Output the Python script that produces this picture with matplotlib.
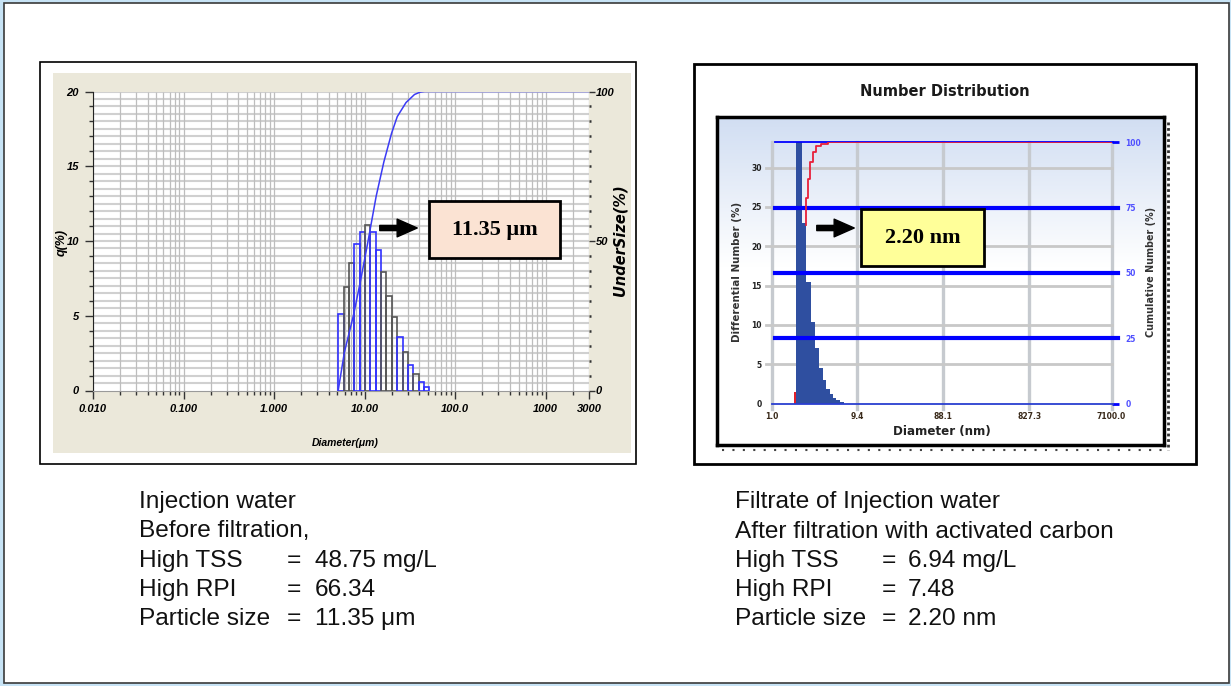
import numpy as np
import matplotlib.pyplot as plt
from matplotlib.patches import Rectangle, FancyArrowPatch
from matplotlib.ticker import FixedLocator, NullLocator

# --- data: left chart (laser diffraction, before filtration) ---
left_edges = [5.10, 5.84, 6.70, 7.68, 8.80, 10.08, 11.55, 13.24, 15.17, 17.39,
              19.93, 22.84, 26.17, 29.99, 34.37, 39.39, 45.14, 51.73]
left_q = [5.1, 6.9, 8.5, 9.8, 10.6, 11.1, 10.6, 9.4, 7.9, 6.3,
          4.9, 3.6, 2.6, 1.7, 1.1, 0.6, 0.25]
left_cum_d = [5.1, 5.97, 7.5, 9.1, 10.9, 13.4, 16.3, 19.8, 22.9, 28.6, 35.5, 41.0, 46.0, 3000]
left_cum = [0, 12.8, 25, 37.4, 50, 65, 76.5, 86, 91.6, 96.3, 99.0, 99.8, 100, 100]
left_xticks = [0.01, 0.1, 1, 10, 100, 1000, 3000]
left_xlabels = ['0.010', '0.100', '1.000', '10.00', '100.0', '1000', '3000']

# --- data: right chart (number distribution, after filtration) ---
right_edges = [1.80, 1.90, 2.20, 2.46, 2.80, 3.12, 3.47, 3.82, 4.19, 4.57, 4.98, 5.43, 6.0, 6.6]
right_q = [1.5, 33.2, 22.9, 15.5, 10.4, 7.0, 4.5, 3.0, 1.9, 1.25, 0.7, 0.4, 0.15]
right_cum_d = [2.43, 2.43, 2.58, 2.75, 2.95, 3.22, 3.67, 4.38, 5.45, 7100.0]
right_cum = [68.5, 78.7, 86.0, 92.7, 96.3, 98.5, 99.6, 100, 100, 100]
right_xticks = [1.0, 9.4, 88.1, 827.3, 7100.0]
right_xlabels = ['1.0', '9.4', '88.1', '827.3', '7100.0']

left_info = [("Injection water", "", ""),
             ("Before filtration,", "", ""),
             ("High TSS", "=", "48.75 mg/L"),
             ("High RPI", "=", "66.34"),
             ("Particle size", "=", "11.35 \u03bcm")]
right_info = [("Filtrate of Injection water", "", ""),
              ("After filtration with activated carbon", "", ""),
              ("High TSS", "=", "6.94 mg/L"),
              ("High RPI", "=", "7.48"),
              ("Particle size", "=", "2.20 nm")]

W, H = 1231, 686


def frect(x0, y0, x1, y1):
    # pixel box (top-left origin) -> figure fraction
    return [x0 / W, 1 - y1 / H, (x1 - x0) / W, (y1 - y0) / H]


def fpt(x, y):
    return (x / W, 1 - y / H)


def box(x0, y0, x1, y1, **kw):
    r = Rectangle(fpt(x0, y1), (x1 - x0) / W, (y1 - y0) / H,
                  transform=fig.transFigure, **kw)
    fig.add_artist(r)
    return r


def arrow(x0, x1, y):
    a = FancyArrowPatch(fpt(x0, y), fpt(x1, y), transform=fig.transFigure,
                        arrowstyle='simple,head_length=0.85,head_width=0.75,tail_width=0.22',
                        mutation_scale=17, color='black', zorder=10)
    fig.add_artist(a)


fig = plt.figure(figsize=(W / 100, H / 100), dpi=100, facecolor='#c7e3f5')
box(4, 3, 1229, 683, fc='white', ec='#3a3a3a', lw=1.2, zorder=0)

# ================= LEFT CHART =================
box(40, 62, 636, 464, fc='white', ec='black', lw=1.2, zorder=0)
box(53, 73, 631, 453, fc='#ebe8da', ec='none', zorder=0)

lfont = dict(family='Liberation Sans', weight='bold', style='italic')
ax1 = fig.add_axes(frect(93, 91.5, 589, 390.5))
ax1.set_facecolor('white')
ax1.set_xscale('log')
ax1.set_xlim(0.01, 3000)
ax1.set_ylim(0, 20)

grid_y = np.arange(0.5, 20.01, 0.5)
ax1.hlines(grid_y, 0.01, 3000, color='#d0d0d0', lw=1.5, zorder=0)
grid_x = [m * 10.0 ** e for e in range(-2, 4) for m in range(1, 10) if m * 10.0 ** e <= 3000]
ax1.vlines(grid_x, 0, 20, color='#bdbdbd', lw=0.9, zorder=0)

colors = ['#3030ff', '#555555', '#555555', '#3030ff', '#3030ff', '#555555', '#3030ff',
          '#3030ff', '#555555', '#555555', '#555555', '#3030ff', '#555555', '#3030ff',
          '#555555', '#3030ff', '#3030ff']
ax1.bar(left_edges[:-1], left_q, width=np.diff(left_edges), align='edge',
        fill=False, edgecolor=colors, linewidth=1.2, zorder=3)

ax1.set_xticks(left_xticks)
ax1.set_xticklabels(left_xlabels, **lfont, fontsize=8)
ax1.xaxis.set_minor_locator(FixedLocator(grid_x))
ax1.set_yticks([0, 5, 10, 15, 20])
ax1.set_yticklabels(['0', '5', '10', '15', '20'], **lfont, fontsize=8)
ax1.yaxis.set_minor_locator(FixedLocator(range(0, 21)))
ax1.tick_params(which='major', direction='out', length=6, width=1, color='#333333', pad=4)
ax1.tick_params(which='minor', direction='out', length=3, width=1, color='#333333')
for s in ['top', 'right']:
    ax1.spines[s].set_visible(False)
ax1.spines['bottom'].set_color('#9a9a9a')
ax1.spines['left'].set_color('#222222')

ax1r = ax1.twinx()
ax1r.set_ylim(0, 100)
ax1r.plot(left_cum_d, left_cum, color='#3b3bf5', lw=1.1, zorder=4)
ax1r.set_yticks([0, 50, 100])
ax1r.set_yticklabels(['0', '50', '100'], **lfont, fontsize=8)
ax1r.yaxis.set_minor_locator(FixedLocator(range(0, 101, 5)))
ax1r.tick_params(which='major', direction='out', length=4, width=1, color='#333333', pad=1)
ax1r.tick_params(which='minor', direction='out', length=1.5, width=1.8, color='#333333')
for s in ['top', 'right', 'left', 'bottom']:
    ax1r.spines[s].set_visible(False)

fig.text(*fpt(62, 242), 'q(%)', rotation=90, ha='center', va='center', fontsize=9, **lfont)
fig.text(*fpt(620, 240), 'UnderSize(%)', rotation=90, ha='center', va='center', fontsize=10.5,
         family='DejaVu Sans', weight='bold', style='italic')
fig.text(*fpt(345, 443), 'Diameter(\u03bcm)', ha='center', va='center', fontsize=7.5, **lfont)

box(429, 201, 560, 258, fc='#fbe3d3', ec='black', lw=2, zorder=9)
fig.text(*fpt(494.5, 229.5), '11.35 \u03bcm', ha='center', va='center', fontsize=16,
         family='Liberation Serif', weight='bold', zorder=11)
arrow(377, 420, 228)

# ================= RIGHT CHART =================
box(694, 64, 1196, 464, fc='white', ec='black', lw=2, zorder=0)
fig.text(*fpt(945, 91), 'Number Distribution', ha='center', va='center',
         fontsize=10.5, family='DejaVu Sans', weight='semibold', color='#1a1a1a')

bg = fig.add_axes(frect(717, 117, 1164, 445))
grad = np.ones((200, 1, 3))
top_col = np.array([0.82, 0.87, 0.95])
fade = np.clip(np.linspace(1, -1.2, 200), 0, 1)[:, None]
grad[:, 0, :] = 1 - fade * (1 - top_col)
bg.imshow(grad, aspect='auto', extent=[0, 1, 0, 1])
bg.set_xticks([])
bg.set_yticks([])
for s in bg.spines.values():
    s.set_linewidth(2.5)
    s.set_color('black')

# dotted shadow
fig.add_artist(plt.Line2D([1168 / W, 1168 / W], [1 - 122 / H, 1 - 450 / H], transform=fig.transFigure,
                          color='#333333', lw=2, ls=(0, (1, 1))))
fig.add_artist(plt.Line2D([722 / W, 1168 / W], [1 - 450 / H, 1 - 450 / H], transform=fig.transFigure,
                          color='#444444', lw=1.5, ls=(0, (1, 4))))

ax2 = fig.add_axes(frect(771.5, 142.5, 1111.5, 403.5))
ax2.set_facecolor('none')
ax2.set_xscale('log')
ax2.set_xlim(1.0, 7100.0)
ax2.set_ylim(0, 33.2)
gray = '#c6cacf'
for xv in right_xticks:
    ax2.axvline(xv, ymin=-0.02, ymax=1, color=gray, lw=2.4, clip_on=False, zorder=0)
for yv in [5, 10, 15, 20, 25, 30]:
    ax2.axhline(yv, xmin=-0.015, xmax=1, color='#c8c8c8', lw=2, clip_on=False, zorder=0)

bar_cols = ['#e0202a'] + ['#2f4fa0'] * (len(right_q) - 1)
ax2.bar(right_edges[:-1], right_q, width=np.diff(right_edges), align='edge',
        color=bar_cols, lw=0, zorder=2)

ax2.xaxis.set_major_locator(FixedLocator(right_xticks))
ax2.xaxis.set_minor_locator(NullLocator())
ax2.set_xticklabels(right_xlabels, fontsize=5.5, weight='bold', color='#3a2a1a')
ax2.set_yticks([0, 5, 10, 15, 20, 25, 30])
ax2.set_yticklabels(['0', '5', '10', '15', '20', '25', '30'], fontsize=5.5, weight='bold', color='#222222')
ax2.tick_params(axis='x', length=0, pad=6)
ax2.tick_params(axis='y', length=0, pad=7)
for s in ax2.spines.values():
    s.set_visible(False)

ax2r = ax2.twinx()
ax2r.set_ylim(0, 100)
for v in [25, 50, 75]:
    ax2r.axhline(v, xmin=0.009, xmax=1.02, color='#0000ff', lw=3, clip_on=False, zorder=3)
ax2r.axhline(0, xmin=0.0, xmax=1.005, color='#2a3fd0', lw=1.3, clip_on=False, zorder=3)
ax2r.axhline(100, xmin=0.009, xmax=1.005, color='#0000ff', lw=1.3, clip_on=False, zorder=3)
ax2r.plot(right_cum_d, right_cum, drawstyle='steps-post', color='#e8203a', lw=1.3, zorder=4)
ax2r.set_yticks([0, 25, 50, 75, 100])
ax2r.set_yticklabels(['0', '25', '50', '75', '100'], fontsize=5.5, weight='bold', color='#5050ff')
ax2r.tick_params(axis='y', direction='out', length=5, width=2, color='#0000ff', pad=5)
for s in ax2r.spines.values():
    s.set_visible(False)

fig.text(*fpt(737.5, 272), 'Differential Number (%)', rotation=90, ha='center', va='center',
         fontsize=7.4, color='#333333', weight='bold')
fig.text(*fpt(1151.5, 272), 'Cumulative Number (%)', rotation=90, ha='center', va='center',
         fontsize=6.9, color='#333333', weight='bold')
fig.text(*fpt(942, 432), 'Diameter (nm)', ha='center', va='center', fontsize=8.6,
         color='#222222', weight='semibold')

box(861, 209, 984, 266, fc='#ffff99', ec='black', lw=2, zorder=9)
fig.text(*fpt(922.5, 238), '2.20 nm', ha='center', va='center', fontsize=16,
         family='Liberation Serif', weight='bold', zorder=11)
arrow(814, 857, 228)

# ================= TEXT BLOCKS =================
baselines = [508, 537.5, 567, 596, 625]
tfont = dict(family='Liberation Sans', fontsize=17.6, va='baseline', color='#111111')
for (lab, eq, val), yb in zip(left_info, baselines):
    fig.text(*fpt(139, yb), lab, **tfont)
    if eq:
        fig.text(*fpt(287, yb), eq, **tfont)
        fig.text(*fpt(315, yb), val, **tfont)
for (lab, eq, val), yb in zip(right_info, baselines):
    fig.text(*fpt(735, yb), lab, **tfont)
    if eq:
        fig.text(*fpt(882, yb), eq, **tfont)
        fig.text(*fpt(908, yb), val, **tfont)

fig.savefig('out.png', dpi=100, facecolor=fig.get_facecolor())
